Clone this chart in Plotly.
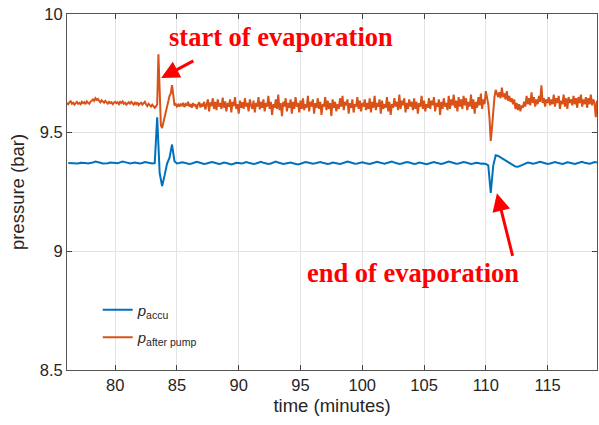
import plotly.graph_objects as go

# p_after_pump sampled every 0.1 min from 76.1 min; p_accu every 0.2 min from 76.2 min
t_start_pump, t_step_pump = 76.1, 0.1
t_start_accu, t_step_accu = 76.2, 0.2

p_after_pump = [
    9.625, 9.62, 9.628, 9.632, 9.622, 9.626, 9.618, 9.624, 9.63, 9.622,
    9.626, 9.62, 9.63, 9.624, 9.628, 9.62, 9.632, 9.626, 9.622, 9.63,
    9.636, 9.64, 9.634, 9.645, 9.638, 9.642, 9.634, 9.628, 9.636, 9.63,
    9.626, 9.634, 9.628, 9.622, 9.63, 9.624, 9.628, 9.62, 9.626, 9.63,
    9.624, 9.628, 9.62, 9.63, 9.625, 9.632, 9.622, 9.626, 9.618, 9.624,
    9.628, 9.622, 9.63, 9.624, 9.618, 9.626, 9.62, 9.628, 9.616, 9.622,
    9.626, 9.618, 9.624, 9.63, 9.62, 9.612, 9.622, 9.616, 9.61, 9.618,
    9.612, 9.605, 9.61, 9.62, 9.83, 9.64, 9.53, 9.52, 9.545, 9.57,
    9.595, 9.62, 9.64, 9.655, 9.665, 9.70, 9.66, 9.615, 9.62, 9.61,
    9.618, 9.61, 9.622, 9.612, 9.626, 9.608, 9.62, 9.614, 9.63, 9.61,
    9.62, 9.605, 9.625, 9.612, 9.62, 9.60, 9.618, 9.628, 9.606, 9.622,
    9.61, 9.63, 9.598, 9.625, 9.64, 9.59, 9.628, 9.612, 9.645, 9.60,
    9.63, 9.595, 9.64, 9.61, 9.625, 9.60, 9.648, 9.605, 9.632, 9.59,
    9.625, 9.61, 9.64, 9.585, 9.63, 9.612, 9.65, 9.60, 9.62, 9.58,
    9.635, 9.605, 9.628, 9.60, 9.645, 9.61, 9.625, 9.59, 9.64, 9.615,
    9.60, 9.635, 9.585, 9.625, 9.61, 9.65, 9.598, 9.63, 9.605, 9.64,
    9.59, 9.625, 9.61, 9.655, 9.60, 9.63, 9.575, 9.62, 9.605, 9.64,
    9.60, 9.66, 9.595, 9.625, 9.57, 9.63, 9.61, 9.645, 9.59, 9.625,
    9.605, 9.64, 9.58, 9.63, 9.60, 9.65, 9.61, 9.625, 9.585, 9.635,
    9.60, 9.645, 9.595, 9.62, 9.605, 9.655, 9.59, 9.63, 9.61, 9.64,
    9.58, 9.625, 9.605, 9.645, 9.60, 9.63, 9.575, 9.62, 9.61, 9.65,
    9.595, 9.635, 9.60, 9.625, 9.57, 9.64, 9.605, 9.63, 9.59, 9.62,
    9.60, 9.645, 9.61, 9.655, 9.595, 9.63, 9.615, 9.64, 9.58, 9.625,
    9.605, 9.64, 9.585, 9.62, 9.61, 9.65, 9.60, 9.635, 9.59, 9.625,
    9.61, 9.64, 9.595, 9.625, 9.60, 9.645, 9.585, 9.63, 9.605, 9.655,
    9.595, 9.625, 9.61, 9.64, 9.58, 9.635, 9.60, 9.62, 9.605, 9.65,
    9.59, 9.63, 9.575, 9.62, 9.605, 9.645, 9.61, 9.63, 9.595, 9.66,
    9.60, 9.635, 9.615, 9.645, 9.585, 9.625, 9.60, 9.64, 9.61, 9.63,
    9.595, 9.645, 9.60, 9.63, 9.58, 9.625, 9.61, 9.655, 9.60, 9.635,
    9.59, 9.62, 9.605, 9.645, 9.60, 9.635, 9.615, 9.65, 9.59, 9.625,
    9.61, 9.64, 9.575, 9.63, 9.60, 9.645, 9.61, 9.625, 9.595, 9.655,
    9.60, 9.64, 9.615, 9.66, 9.605, 9.635, 9.59, 9.65, 9.61, 9.64,
    9.60, 9.655, 9.615, 9.645, 9.595, 9.63, 9.61, 9.66, 9.60, 9.64,
    9.58, 9.63, 9.605, 9.65, 9.615, 9.665, 9.60, 9.64, 9.62, 9.675,
    9.64, 9.62, 9.56, 9.465, 9.52, 9.60, 9.65, 9.68, 9.66, 9.65,
    9.67, 9.645, 9.69, 9.65, 9.665, 9.64, 9.675, 9.635, 9.655, 9.63,
    9.645, 9.62, 9.64, 9.60, 9.625, 9.595, 9.62, 9.59, 9.615, 9.605,
    9.63, 9.61, 9.655, 9.62, 9.645, 9.615, 9.67, 9.625, 9.65, 9.61,
    9.64, 9.62, 9.655, 9.63, 9.70, 9.625, 9.645, 9.61, 9.64, 9.625,
    9.65, 9.615, 9.64, 9.62, 9.66, 9.61, 9.645, 9.625, 9.655, 9.60,
    9.635, 9.62, 9.66, 9.61, 9.645, 9.60, 9.65, 9.625, 9.64, 9.615,
    9.655, 9.62, 9.645, 9.605, 9.65, 9.625, 9.66, 9.61, 9.64, 9.62,
    9.65, 9.605, 9.645, 9.62, 9.66, 9.615, 9.64, 9.625, 9.565, 9.635,
]

p_accu = [
    9.372, 9.371, 9.369, 9.368, 9.37, 9.373, 9.374, 9.372, 9.37, 9.371,
    9.374, 9.378, 9.377, 9.373, 9.37, 9.369, 9.371, 9.374, 9.373, 9.37,
    9.371, 9.375, 9.378, 9.376, 9.372, 9.37, 9.372, 9.374, 9.372, 9.37,
    9.372, 9.376, 9.374, 9.371, 9.37, 9.372, 9.565, 9.33, 9.275, 9.32,
    9.37, 9.395, 9.45, 9.38, 9.37, 9.372, 9.375, 9.373, 9.37, 9.368,
    9.37, 9.374, 9.377, 9.374, 9.37, 9.368, 9.37, 9.373, 9.376, 9.374,
    9.37, 9.368, 9.37, 9.374, 9.372, 9.368, 9.366, 9.369, 9.373, 9.372,
    9.37, 9.372, 9.376, 9.373, 9.369, 9.368, 9.37, 9.374, 9.377, 9.373,
    9.37, 9.368, 9.37, 9.375, 9.378, 9.374, 9.37, 9.368, 9.37, 9.372,
    9.374, 9.371, 9.368, 9.366, 9.369, 9.373, 9.376, 9.374, 9.37, 9.369,
    9.371, 9.374, 9.376, 9.373, 9.37, 9.368, 9.37, 9.374, 9.372, 9.369,
    9.368, 9.371, 9.375, 9.378, 9.375, 9.371, 9.369, 9.37, 9.373, 9.375,
    9.372, 9.369, 9.368, 9.371, 9.375, 9.377, 9.374, 9.37, 9.369, 9.372,
    9.376, 9.378, 9.374, 9.37, 9.368, 9.37, 9.373, 9.376, 9.374, 9.37,
    9.368, 9.37, 9.374, 9.372, 9.369, 9.367, 9.37, 9.374, 9.376, 9.373,
    9.37, 9.368, 9.371, 9.375, 9.378, 9.375, 9.371, 9.369, 9.37, 9.373,
    9.376, 9.374, 9.37, 9.368, 9.37, 9.373, 9.372, 9.369, 9.37, 9.368,
    9.362, 9.246, 9.36, 9.405, 9.402, 9.396, 9.39, 9.384, 9.378, 9.372,
    9.364, 9.357, 9.356, 9.361, 9.367, 9.371, 9.374, 9.372, 9.369, 9.371,
    9.374, 9.377, 9.374, 9.37, 9.368, 9.37, 9.373, 9.376, 9.373, 9.37,
    9.368, 9.371, 9.375, 9.373, 9.37, 9.368, 9.371, 9.375, 9.377, 9.373,
    9.37, 9.369, 9.372, 9.376, 9.374,
]

time_pump = [round(t_start_pump + t_step_pump * i, 2) for i in range(len(p_after_pump))]
time_accu = [round(t_start_accu + t_step_accu * i, 2) for i in range(len(p_accu))]

x_ticks = [80, 85, 90, 95, 100, 105, 110, 115]
y_ticks = [8.5, 9, 9.5, 10]
x_range = [76.1, 119.0]
y_range = [8.5, 10.0]

names = ["<i>p</i><sub>accu</sub>", "<i>p</i><sub>after pump</sub>"]
colors = ["#0072BD", "#D95319"]

fig = go.Figure()
fig.add_trace(go.Scatter(x=time_accu, y=p_accu, mode="lines", name=names[0],
                         legendgroup="a", line=dict(color=colors[0], width=2)))
fig.add_trace(go.Scatter(x=time_pump, y=p_after_pump, mode="lines", name=names[1],
                         legendgroup="b", line=dict(color=colors[1], width=2)))

tick_font = dict(family="Liberation Sans, Arial, sans-serif", size=16.5, color="#262626")
title_font = dict(family="Liberation Sans, Arial, sans-serif", size=18.5, color="#262626")

fig.update_layout(
    width=599, height=425,
    margin=dict(l=67, r=2, t=14, b=55),
    plot_bgcolor="white", paper_bgcolor="white",
    font=tick_font,
    showlegend=True,
    legend=dict(x=0.058, y=0.215, xanchor="left", yanchor="top",
                bgcolor="rgba(0,0,0,0)", borderwidth=0,
                font=dict(family="Liberation Sans, Arial, sans-serif", size=15, color="#262626"),
                tracegroupgap=5),
    xaxis=dict(range=x_range, tickvals=x_ticks, ticks="inside", ticklen=5,
               showline=True, linecolor="#555555", linewidth=1, mirror="ticks",
               showgrid=True, gridcolor="#e3e3e3", gridwidth=1, zeroline=False,
               title=dict(text="time (minutes)", font=title_font, standoff=6),
               tickfont=tick_font, automargin=False),
    yaxis=dict(range=y_range, tickvals=y_ticks, ticks="inside", ticklen=5,
               showline=True, linecolor="#555555", linewidth=1, mirror="ticks",
               showgrid=True, gridcolor="#e3e3e3", gridwidth=1, zeroline=False,
               title=dict(text="pressure (bar)", font=title_font, standoff=10),
               tickfont=tick_font, automargin=False),
)

label_font = dict(family="Liberation Serif, Times New Roman, serif", size=26.5, color="#ff0000")

fig.add_annotation(x=93.42, y=9.905, xref="x", yref="y", text="<b>start of evaporation</b>",
                   showarrow=False, font=label_font)
fig.add_annotation(x=104.1, y=8.91, xref="x", yref="y", text="<b>end of evaporation</b>",
                   showarrow=False, font=label_font)

fig.add_annotation(x=83.72, y=9.73, xref="x", yref="y", ax=86.45, ay=9.806,
                   axref="x", ayref="y", text="", showarrow=True,
                   arrowhead=2, arrowsize=1.2, arrowwidth=3, arrowcolor="#ff0000")
fig.add_annotation(x=110.9, y=9.245, xref="x", yref="y", ax=112.2, ay=8.975,
                   axref="x", ayref="y", text="", showarrow=True,
                   arrowhead=2, arrowsize=1.2, arrowwidth=3, arrowcolor="#ff0000")

fig.write_html("out.html", config={"displayModeBar": False},
               post_script="document.body.style.margin='0';")
